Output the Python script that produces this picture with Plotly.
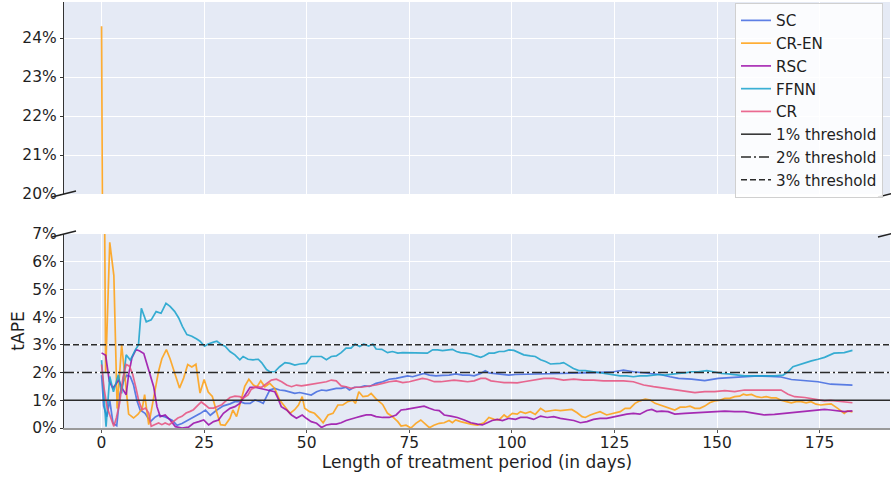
import plotly.graph_objects as go

# ---------------- data (tAPE in %, x in days) ----------------
SC_DAYS = [0, 0.5, 1.3, 2, 2.8, 3.7, 4.5, 5.3, 6.1, 7, 7.8, 8.6, 9.4, 10.6, 11.9, 13.1, 13.9, 15.5, 17.2, 18.4, 19.6, 21.2, 22.4, 24, 25.3, 26.5, 28.1, 29.7, 31.3, 32.5, 33.7, 34.9, 36.2, 37.4, 38.6, 39.4, 40.2, 41, 42.2, 43.4, 44.7, 45.9, 47.1, 48.3, 49.9, 51.1, 52.4, 53.6, 54.8, 56, 57.2, 58.4, 59.6, 60.4, 61.6, 62.9, 64.1, 65.3, 66.9, 68.5, 70.1, 71.8, 73.4, 74.6, 75.8, 77.4, 78.6, 79.9, 81.5, 83.1, 84.7, 86.3, 88, 89.6, 90.8, 92.4, 93.5, 94.4, 96.1, 97.7, 99.3, 100.9, 104, 108.6, 112, 116.7, 120, 124.8, 127.2, 129.6, 132.9, 136.1, 138.5, 140.6, 143.8, 147, 150.3, 154.3, 157, 160, 163, 165.6, 168.1, 171.4, 174.6, 177.7, 181, 183]
SC_VALS = [1.91, 0.8, 0.41, 1.0, 0.17, 0.08, 1.25, 1.66, 1.9, 1.86, 1.55, 1.0, 0.65, 0.53, 0.23, 0.4, 0.46, 0.4, 0.28, 0.1, 0.16, 0.28, 0.4, 0.52, 0.65, 0.46, 0.65, 0.8, 0.87, 0.95, 0.95, 0.89, 0.89, 1.01, 0.95, 0.89, 1.13, 1.37, 1.43, 1.37, 1.35, 1.31, 1.25, 1.28, 1.22, 1.19, 1.31, 1.37, 1.35, 1.4, 1.43, 1.43, 1.47, 1.37, 1.47, 1.47, 1.52, 1.5, 1.61, 1.67, 1.76, 1.79, 1.83, 1.88, 1.85, 1.91, 1.97, 1.91, 1.88, 1.9, 1.91, 1.95, 1.91, 1.91, 1.88, 1.97, 2.07, 1.99, 1.97, 1.95, 1.91, 1.93, 1.94, 1.95, 1.97, 1.99, 2.0, 2.03, 2.09, 2.03, 1.99, 1.93, 1.85, 1.79, 1.76, 1.71, 1.79, 1.83, 1.86, 1.88, 1.86, 1.84, 1.75, 1.72, 1.67, 1.58, 1.55, 1.55]

CREN_DAYS = [0, 1, 2, 3, 3.8, 4.9, 5.6, 6.6, 7.8, 8.9, 9.9, 10.5, 11.5, 12.7, 13.9, 14.7, 15.8, 16.7, 18, 19, 20, 21, 22, 23, 24, 25, 26, 27, 28, 29, 30.1, 31.3, 32, 32.9, 34, 34.9, 35.9, 37, 37.9, 38.8, 39.8, 41, 42.2, 43.4, 44.7, 45.9, 47, 48, 48.9, 49.5, 50.7, 51.9, 53.1, 54, 55.2, 56.4, 57.6, 58.8, 60, 61.2, 61.9, 62.7, 63.7, 64.9, 65.7, 66.9, 68.5, 69.7, 70.9, 72.2, 73, 74.2, 75.4, 76.6, 77.8, 78.6, 79.9, 81, 82.3, 83.5, 84.7, 85.5, 86.3, 87.5, 88.8, 90, 91.6, 93.2, 94.4, 95.7, 96.9, 98.1, 98.9, 100.1, 101.3, 102.1, 103.3, 104.5, 105.7, 107, 108.2, 109.4, 110.6, 111.8, 113.4, 114.6, 115.9, 117.1, 117.9, 119.1, 120.3, 121.5, 123.1, 124.8, 126.4, 127.6, 128.8, 130, 131.2, 132.5, 133.7, 134.9, 136.1, 137.3, 138.5, 139.7, 141, 142.2, 143.4, 144.6, 145.8, 147, 148.2, 149.4, 150.7, 151.9, 153.1, 154.3, 155.5, 156.4, 157.2, 158.4, 159.6, 160.8, 162, 163.2, 164.4, 165.6, 166.9, 168.1, 169.3, 170.5, 171.7, 172.9, 174.1, 175.3, 176.5, 177.8, 179.4, 181, 181.8, 183]
CREN_VALS = [24.3, 2.0, 6.7, 5.5, 0.7, 3.0, 2.0, 0.5, 0.36, 0.5, 0.7, 1.2, 0.12, 1.08, 2.05, 2.5, 2.83, 2.5, 1.9, 1.44, 1.8, 2.29, 2.2, 2.3, 1.26, 1.75, 1.3, 1.14, 0.6, 0.12, 0.1, 0.35, 0.65, 0.41, 1.0, 1.5, 1.76, 1.55, 1.49, 1.7, 1.49, 1.61, 1.43, 1.01, 0.77, 0.53, 0.65, 0.83, 1.13, 0.71, 0.59, 0.53, 0.35, 0.19, 0.47, 0.53, 0.83, 0.83, 0.95, 1.0, 0.89, 1.31, 1.13, 1.16, 1.25, 1.05, 0.85, 0.53, 0.41, 0.23, 0.07, 0.1, 0.0, 0.17, 0.29, 0.19, 0.01, 0.1, 0.17, 0.19, 0.27, 0.19, 0.29, 0.23, 0.17, 0.14, 0.1, 0.19, 0.38, 0.31, 0.29, 0.47, 0.38, 0.53, 0.5, 0.59, 0.53, 0.59, 0.49, 0.71, 0.59, 0.61, 0.65, 0.63, 0.65, 0.67, 0.55, 0.41, 0.38, 0.47, 0.53, 0.59, 0.47, 0.53, 0.59, 0.71, 0.71, 0.89, 0.98, 1.04, 1.01, 0.89, 0.83, 0.77, 0.71, 0.65, 0.75, 0.75, 0.79, 0.71, 0.71, 0.79, 0.91, 0.98, 1.0, 1.07, 1.07, 1.13, 1.15, 1.22, 1.19, 1.21, 1.13, 1.1, 1.13, 1.09, 1.09, 1.0, 0.95, 0.91, 0.95, 0.95, 0.91, 0.95, 0.86, 0.83, 0.85, 0.87, 0.71, 0.53, 0.62, 0.58]

RSC_DAYS = [0, 1, 1.9, 2.75, 3.4, 4.2, 5, 6, 6.6, 7.4, 8.4, 9.3, 10.3, 11.5, 12.7, 13.5, 14.3, 15.5, 16.7, 18, 19.6, 21.2, 22.4, 23.7, 24.9, 26.1, 27.3, 28.5, 29.7, 31.3, 32.5, 33.7, 34.9, 36.2, 37.4, 38.6, 39.8, 41, 42.2, 43, 43.8, 45.1, 46.3, 47.5, 48.9, 49.9, 51.1, 52.4, 53.6, 54.8, 56, 57.2, 58.4, 59.6, 60.8, 62.1, 63.3, 64.5, 65.7, 66.9, 68.5, 70.1, 71.8, 73, 74.2, 75.8, 77, 78.6, 79.9, 81.1, 82.3, 83.5, 85.1, 86.7, 88.4, 90, 91.6, 92.8, 94, 95.2, 96.5, 97.7, 99.3, 100.9, 102.1, 103.7, 105.3, 107, 108.6, 110.2, 111.8, 113.4, 115.1, 116.7, 118.3, 119.9, 121.5, 123.1, 124.8, 126.4, 128, 129.6, 131.2, 132.9, 134.1, 135.3, 136.5, 138.1, 139.7, 142.2, 144.6, 147, 149.4, 151.9, 154.3, 156.7, 159.2, 161.6, 164, 166.5, 168.9, 171.4, 173.8, 176.2, 177.7, 181, 183]
RSC_VALS = [2.71, 2.62, 1.68, 1.44, 1.56, 1.74, 1.44, 1.2, 1.93, 2.53, 2.83, 2.78, 2.69, 2.09, 1.49, 0.77, 0.41, 0.47, 0.29, 0.05, 0.0, 0.03, 0.17, 0.23, 0.29, 0.11, 0.23, 0.29, 0.53, 0.71, 0.77, 0.89, 1.19, 1.47, 1.47, 1.43, 1.4, 1.37, 1.31, 1.07, 0.77, 0.65, 0.47, 0.35, 0.47, 0.35, 0.23, 0.17, 0.02, 0.11, 0.14, 0.14, 0.19, 0.27, 0.31, 0.38, 0.43, 0.47, 0.47, 0.41, 0.38, 0.38, 0.47, 0.65, 0.67, 0.71, 0.75, 0.79, 0.71, 0.65, 0.63, 0.47, 0.43, 0.38, 0.29, 0.19, 0.14, 0.11, 0.19, 0.27, 0.31, 0.27, 0.35, 0.31, 0.38, 0.38, 0.31, 0.43, 0.38, 0.41, 0.35, 0.31, 0.27, 0.19, 0.23, 0.31, 0.35, 0.35, 0.41, 0.47, 0.5, 0.53, 0.5, 0.63, 0.67, 0.59, 0.61, 0.59, 0.5, 0.53, 0.55, 0.59, 0.59, 0.61, 0.59, 0.59, 0.53, 0.47, 0.49, 0.53, 0.55, 0.59, 0.65, 0.67, 0.65, 0.59, 0.62]

FFNN_DAYS = [0, 1.1, 2, 2.9, 4.1, 4.9, 6, 7, 8.2, 9, 9.7, 10.9, 12.1, 13.3, 14.5, 15.7, 16.7, 17.8, 18.8, 19.7, 20.8, 22, 23.2, 24, 25.1, 26, 27.3, 28.1, 29.3, 30.1, 31.3, 32.5, 33.7, 34.5, 35.7, 36.9, 38.2, 39, 40.2, 41, 42.2, 43.4, 44.7, 45.9, 47.1, 48.3, 49.9, 51.1, 52.4, 53.6, 54.8, 56, 57.2, 58.4, 59.6, 60.8, 61.8, 62.9, 63.9, 65.1, 66.1, 66.9, 68.3, 69.7, 70.9, 72.2, 73.4, 75, 76.6, 78.2, 79.4, 80.7, 81.9, 83.1, 84.3, 85.5, 86.5, 87.5, 88.8, 90, 91.2, 92.4, 93.2, 94.4, 95.7, 96.9, 98.1, 99.3, 100.5, 101.7, 102.9, 104.5, 105.7, 107, 108.2, 109.4, 110.6, 111.8, 112.6, 113.8, 115, 116.3, 117.9, 119.9, 121.5, 123.1, 124.8, 126.4, 128, 129.6, 131.2, 132.9, 134.5, 136.1, 137.3, 138.9, 140.6, 142.2, 143.8, 145.4, 147.5, 149.1, 151.1, 152.7, 154.7, 156.7, 159.2, 161.6, 164, 166.1, 167.3, 168.5, 169.7, 171.4, 173, 174.6, 176.2, 178.5, 181, 183]
FFNN_VALS = [2.45, 0.05, 1.86, 1.31, 1.92, 1.25, 2.64, 2.45, 2.81, 3.0, 4.32, 3.83, 3.9, 4.2, 4.14, 4.5, 4.39, 4.21, 3.97, 3.67, 3.37, 3.31, 3.21, 3.13, 2.95, 3.03, 3.1, 3.13, 3.0, 2.95, 2.76, 2.64, 2.46, 2.58, 2.48, 2.46, 2.48, 2.36, 2.11, 2.03, 2.03, 2.21, 2.36, 2.33, 2.27, 2.31, 2.33, 2.58, 2.58, 2.58, 2.46, 2.58, 2.6, 2.72, 2.88, 2.88, 3.03, 2.94, 3.03, 2.96, 3.03, 2.85, 2.84, 2.72, 2.76, 2.7, 2.72, 2.72, 2.72, 2.7, 2.7, 2.82, 2.82, 2.79, 2.82, 2.84, 2.76, 2.72, 2.7, 2.67, 2.6, 2.55, 2.6, 2.7, 2.7, 2.76, 2.76, 2.82, 2.8, 2.72, 2.64, 2.6, 2.58, 2.46, 2.4, 2.31, 2.31, 2.33, 2.36, 2.24, 2.15, 2.07, 2.07, 2.03, 1.99, 1.95, 1.91, 1.88, 1.88, 1.85, 1.88, 1.88, 1.91, 1.93, 1.91, 1.95, 1.97, 1.99, 2.03, 2.03, 2.07, 2.03, 1.97, 1.95, 1.91, 1.88, 1.88, 1.88, 1.88, 1.91, 2.03, 2.21, 2.27, 2.33, 2.42, 2.48, 2.55, 2.7, 2.72, 2.8]

CR_DAYS = [0, 0.6, 1.4, 2.2, 3, 3.6, 4.4, 5.2, 6, 6.8, 7.6, 8.4, 9.1, 9.9, 10.7, 11.5, 12.1, 12.9, 13.9, 14.7, 15.5, 16.5, 17.6, 18.6, 19.6, 20.6, 21.6, 22.4, 23.2, 24.3, 25.2, 26.2, 27.3, 28.3, 29.3, 30.1, 31.3, 32.5, 33.7, 34.5, 35.7, 36.5, 37.8, 39, 40.2, 41.4, 42.6, 43.9, 45.1, 46.3, 47.5, 48.7, 49.9, 51.1, 52.4, 53.6, 54.8, 56, 57.2, 58.4, 59.6, 60.8, 62.1, 63.3, 64.5, 65.7, 66.9, 68.5, 70.1, 71.8, 73.4, 75, 76.6, 78.2, 79.4, 81.1, 82.7, 84.3, 85.9, 87.6, 89.2, 90.8, 92.4, 93.6, 94.9, 96.5, 98.1, 99.7, 101.3, 102.9, 105.3, 107.8, 110.2, 112.6, 115.1, 117.5, 119.9, 122.3, 124.8, 127.2, 129.6, 132.1, 134.5, 136.5, 138.9, 142.2, 144.6, 147, 149.4, 151.9, 154.3, 156.7, 159.2, 161.6, 164, 165.6, 167.3, 168.9, 171.4, 173.8, 176.2, 177.7, 181, 183]
CR_VALS = [2.29, 1.44, 0.72, 0.36, 0.06, 0.36, 0.9, 1.8, 2.29, 2.23, 1.93, 1.44, 0.96, 0.66, 0.72, 0.54, 0.06, 0.12, 0.18, 0.12, 0.18, 0.12, 0.24, 0.36, 0.42, 0.54, 0.6, 0.66, 0.78, 0.94, 0.84, 0.72, 0.72, 0.78, 0.84, 0.95, 1.1, 1.15, 1.13, 1.07, 1.19, 1.4, 1.49, 1.47, 1.61, 1.73, 1.76, 1.67, 1.55, 1.49, 1.55, 1.52, 1.55, 1.58, 1.61, 1.64, 1.67, 1.73, 1.7, 1.52, 1.49, 1.43, 1.47, 1.47, 1.49, 1.52, 1.55, 1.61, 1.67, 1.7, 1.64, 1.67, 1.73, 1.79, 1.76, 1.67, 1.67, 1.7, 1.73, 1.7, 1.67, 1.7, 1.79, 1.79, 1.7, 1.67, 1.64, 1.64, 1.63, 1.67, 1.73, 1.79, 1.79, 1.73, 1.76, 1.73, 1.73, 1.7, 1.7, 1.7, 1.67, 1.55, 1.49, 1.45, 1.4, 1.31, 1.28, 1.31, 1.31, 1.35, 1.31, 1.37, 1.37, 1.37, 1.35, 1.37, 1.22, 1.13, 1.1, 1.03, 0.98, 1.0, 0.95, 0.91]

SERIES = [
    ("SC", SC_DAYS, SC_VALS, "#4169E1"),
    ("CR-EN", CREN_DAYS, CREN_VALS, "#FFA010"),
    ("RSC", RSC_DAYS, RSC_VALS, "#9A0AA8"),
    ("FFNN", FFNN_DAYS, FFNN_VALS, "#17A2CC"),
    ("CR", CR_DAYS, CR_VALS, "#E8507E"),
]

THRESHOLDS = [1, 2, 3]
THRESHOLD_NAMES = ["1% threshold", "2% threshold", "3% threshold"]
THRESHOLD_DASH = ["solid", "10px,3px,2px,3px", "6px,3px"]

TOP_TICKS = [20, 21, 22, 23, 24]
BOTTOM_TICKS = [0, 1, 2, 3, 4, 5, 6, 7]
X_TICKS = [0, 25, 50, 75, 100, 125, 150, 175]

# ---------------- figure ----------------
W, H = 891, 481
ML, MR, MT, MB = 64, 1, 2, 53
plot_h = H - MT - MB
plot_w = W - ML - MR

all_days = [d for s in SERIES for d in s[1]]
xmin, xmax = min(all_days), max(all_days)
pad = 0.05 * (xmax - xmin)
xr = [xmin - pad, xmax + pad]

# bottom panel: y 234..428 px ; top panel 2..194 px
bot_dom = [0, (428 - 234) / plot_h]
top_dom = [(428 - 194) / plot_h, 1]

fig = go.Figure()
for name, dd, vv, col in SERIES:
    for ax, show in (("y", True), ("y2", False)):
        fig.add_trace(go.Scatter(
            x=dd, y=vv, mode="lines", name=name, legendgroup=name,
            showlegend=show, yaxis=ax, xaxis="x" if ax == "y" else "x2",
            line=dict(color=col, width=1.7), opacity=0.85, hoverinfo="skip"))

for t, nm, ds in zip(THRESHOLDS, THRESHOLD_NAMES, THRESHOLD_DASH):
    fig.add_trace(go.Scatter(
        x=xr, y=[t, t], mode="lines", name=nm, yaxis="y", xaxis="x",
        line=dict(color="#2b2b2b", width=1.5, dash=ds), hoverinfo="skip"))

font_fam = "DejaVu Sans, Arial, sans-serif"
tick_font = dict(family=font_fam, size=15.5, color="#1f1f1f")

fig.update_layout(
    width=W, height=H,
    margin=dict(l=ML, r=MR, t=MT, b=MB, autoexpand=False),
    paper_bgcolor="white",
    plot_bgcolor="#E5EAF5",
    showlegend=True,
    legend=dict(x=1 - 7 / plot_w, xanchor="right", y=1 - 1 / plot_h, yanchor="top",
                bgcolor="rgba(255,255,255,0.85)", bordercolor="#d0d0d0", borderwidth=1,
                font=dict(family=font_fam, size=15.2, color="#1f1f1f"),
                tracegroupgap=0, itemwidth=30),
    xaxis=dict(domain=[0, 1], range=xr, tickvals=X_TICKS, showgrid=True, gridcolor="white",
               gridwidth=1, zeroline=False, ticks="outside", ticklen=3, tickcolor="#555",
               tickfont=tick_font, showline=True, linecolor="#9a9a9a", linewidth=1.5,
               ticklabelstandoff=-3,
               title=dict(text="Length of treatment period (in days)",
                          font=dict(family=font_fam, size=17, color="#1f1f1f"), standoff=2),
               anchor="y", automargin=False),
    xaxis2=dict(domain=[0, 1], range=xr, matches="x", tickvals=X_TICKS, showgrid=True,
                gridcolor="white", gridwidth=1, zeroline=False, showticklabels=False,
                ticks="", anchor="y2", automargin=False),
    yaxis=dict(domain=bot_dom, range=[0, 7], tickvals=BOTTOM_TICKS,
               ticktext=[f"{v}%" for v in BOTTOM_TICKS],
               showgrid=True, gridcolor="white", gridwidth=1, zeroline=False,
               ticks="outside", ticklen=3, tickcolor="#333", tickfont=tick_font,
               showline=True, linecolor="#333", linewidth=1.2,
               title=dict(text="tAPE", font=dict(family=font_fam, size=17, color="#1f1f1f"),
                          standoff=3),
               anchor="x", automargin=False),
    yaxis2=dict(domain=top_dom, range=[20, 20 + (194 - 2) / 39.0], tickvals=TOP_TICKS,
                ticktext=[f"{v}%" for v in TOP_TICKS],
                showgrid=True, gridcolor="white", gridwidth=1, zeroline=False,
                ticks="outside", ticklen=3, tickcolor="#333", tickfont=tick_font,
                showline=True, linecolor="#333", linewidth=1.2, anchor="x2",
                automargin=False),
)

# axis-break diagonal marks
dx = 12 / plot_w
dy = 3 / plot_h
for xc in (0, 1):
    for yc in (top_dom[0], bot_dom[1]):
        fig.add_shape(type="line", xref="paper", yref="paper",
                      x0=xc - dx, x1=xc + dx, y0=yc - dy, y1=yc + dy,
                      line=dict(color="#222", width=1.4))

fig.write_html("out.html")
